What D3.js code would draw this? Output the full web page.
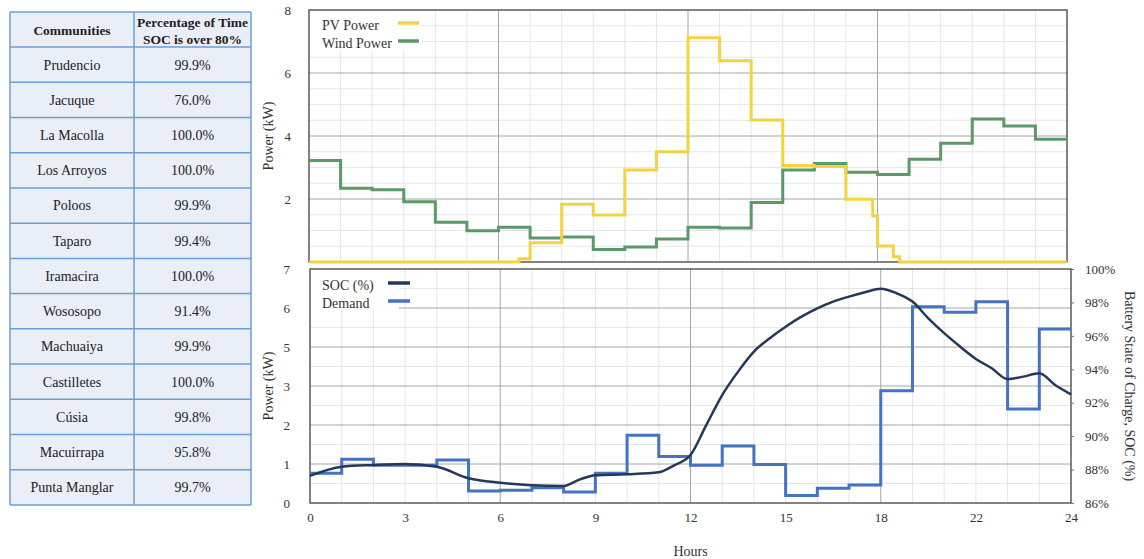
<!DOCTYPE html>
<html>
<head>
<meta charset="utf-8">
<script src="https://cdn.jsdelivr.net/npm/d3@7"></script>
<style>
body { margin: 0; background: #fff; }
svg text { font-family: "Liberation Serif", "Times New Roman", serif; fill: #333; }
</style>
</head>
<body>
<div id="chart"></div>
<script>
// table
const communities = ["Prudencio", "Jacuque", "La Macolla", "Los Arroyos", "Poloos", "Taparo", "Iramacira",
    "Wososopo", "Machuaiya", "Castilletes", "Cúsia", "Macuirrapa", "Punta Manglar"]
const socOver80 = ["99.9%", "76.0%", "100.0%", "100.0%", "99.9%", "99.4%", "100.0%",
    "91.4%", "99.9%", "100.0%", "99.8%", "95.8%", "99.7%"]

// top chart, hourly steps
const windPower = [3.22, 2.34, 2.29, 1.91, 1.26, 0.99, 1.10, 0.76, 0.79, 0.40, 0.48, 0.73,
    1.10, 1.08, 1.89, 2.92, 3.13, 2.85, 2.78, 3.26, 3.77, 4.54, 4.32, 3.90]
const pvHours = [0, 6.65, 7, 8, 9, 10, 11, 12, 13, 14, 15, 16, 17, 17.85, 18, 18.5, 18.7, 24]
const pvPower = [0, 0.1, 0.61, 1.83, 1.49, 2.92, 3.5, 7.12, 6.39, 4.51, 3.06, 3.03, 1.99, 1.46, 0.51, 0.17, 0, 0]
const topTicks = [2, 4, 6, 8]

// bottom chart
const demand = [0.76, 1.12, 0.97, 0.97, 1.10, 0.31, 0.33, 0.39, 0.28, 0.76, 1.74, 1.19,
    0.97, 1.46, 0.99, 0.19, 0.38, 0.46, 2.88, 6.03, 5.89, 6.16, 2.41, 5.46]
const socHours = [0, 1, 2, 3, 4, 5, 6, 7, 8, 8.5, 9, 10, 11, 11.5, 12, 12.5, 13, 13.5, 14, 14.5, 15, 15.5,
    16, 16.5, 17, 17.5, 18, 18.5, 19, 19.5, 20, 20.5, 21, 21.5, 22, 22.5, 23, 23.5, 24]
const soc = [87.62, 88.17, 88.27, 88.33, 88.17, 87.48, 87.21, 87.06, 87.02, 87.40, 87.66, 87.72, 87.84, 88.27,
    88.87, 90.67, 92.46, 93.86, 95.06, 95.86, 96.55, 97.15, 97.65, 98.05, 98.35, 98.61, 98.82, 98.55,
    98.05, 97.05, 96.16, 95.36, 94.62, 94.06, 93.42, 93.56, 93.76, 93.06, 92.50]
const powerTicks = [0, 1, 2, 3, 5, 6, 7]
const socTicks = [86, 88, 90, 92, 94, 96, 98, 100]
const hourTicks = [0, 3, 6, 9, 12, 15, 18, 21, 24]
const hourLabels = ["0", "3", "6", "9", "12", "15", "18", "22", "24"]

const colors = { pv: "#f3d341", wind: "#5b9a68", soc: "#263857", demand: "#4472c4" }

const svg = d3.select("#chart").append("svg")
    .attr("width", 1144)
    .attr("height", 559)

function drawTable() {
    const g = svg.append("g")
    const colX = [10, 134, 251]
    const rowY = d3.scaleLinear().domain([0, communities.length]).range([47, 505])

    g.append("rect")
        .attr("x", colX[0]).attr("y", 12)
        .attr("width", colX[2] - colX[0]).attr("height", 505 - 12)
        .attr("fill", "#e9eef7")

    const lines = [12].concat(d3.range(communities.length + 1).map(i => rowY(i)))
    g.selectAll(".hline").data(lines).join("line")
        .attr("x1", colX[0]).attr("x2", colX[2])
        .attr("y1", d => d).attr("y2", d => d)
        .attr("stroke", "#6a9fd4").attr("stroke-width", 1.5)
    g.selectAll(".vline").data(colX).join("line")
        .attr("x1", d => d).attr("x2", d => d)
        .attr("y1", 12).attr("y2", 505)
        .attr("stroke", "#6a9fd4").attr("stroke-width", 1.5)

    g.append("text")
        .attr("x", (colX[0] + colX[1]) / 2).attr("y", 30)
        .attr("dy", "0.35em").attr("text-anchor", "middle")
        .style("font-weight", "bold").style("font-size", "13.5px").style("fill", "#222")
        .text("Communities")
    g.append("text")
        .attr("x", (colX[1] + colX[2]) / 2).attr("y", 22)
        .attr("dy", "0.35em").attr("text-anchor", "middle")
        .style("font-weight", "bold").style("font-size", "13.5px").style("fill", "#222")
        .text("Percentage of Time")
    g.append("text")
        .attr("x", (colX[1] + colX[2]) / 2).attr("y", 39)
        .attr("dy", "0.35em").attr("text-anchor", "middle")
        .style("font-weight", "bold").style("font-size", "13.5px").style("fill", "#222")
        .text("SOC is over 80%")

    g.selectAll(".name").data(communities).join("text")
        .attr("x", (colX[0] + colX[1]) / 2)
        .attr("y", (d, i) => (rowY(i) + rowY(i + 1)) / 2)
        .attr("dy", "0.35em").attr("text-anchor", "middle")
        .style("font-size", "14px").style("fill", "#222")
        .text(d => d)
    g.selectAll(".val").data(socOver80).join("text")
        .attr("x", (colX[1] + colX[2]) / 2)
        .attr("y", (d, i) => (rowY(i) + rowY(i + 1)) / 2)
        .attr("dy", "0.35em").attr("text-anchor", "middle")
        .style("font-size", "14px").style("fill", "#222")
        .text(d => d)
}

function grid(g, x, yLines, yMinor, y0, y1) {
    const hrs = d3.range(1, 24)
    g.selectAll(".vminor").data(hrs.filter(h => h % 6 !== 0)).join("line")
        .attr("x1", d => x(d)).attr("x2", d => x(d)).attr("y1", y0).attr("y2", y1)
        .attr("stroke", "#e6e6e6")
    g.selectAll(".hminor").data(yMinor).join("line")
        .attr("x1", x(0)).attr("x2", x(24)).attr("y1", d => d).attr("y2", d => d)
        .attr("stroke", "#e6e6e6")
    g.selectAll(".vmajor").data([6, 12, 18]).join("line")
        .attr("x1", d => x(d)).attr("x2", d => x(d)).attr("y1", y0).attr("y2", y1)
        .attr("stroke", "#a6a6a6")
    g.selectAll(".hmajor").data(yLines).join("line")
        .attr("x1", x(0)).attr("x2", x(24)).attr("y1", d => d).attr("y2", d => d)
        .attr("stroke", "#a6a6a6")
}

function legend(g, x, y, items) {
    items.forEach((it, i) => {
        g.append("text")
            .attr("x", x).attr("y", y + i * 18)
            .attr("dy", "0.35em")
            .style("font-size", "14px")
            .text(it.label)
        g.append("line")
            .attr("x1", it.x1).attr("x2", it.x2)
            .attr("y1", y - 2 + i * 18).attr("y2", y - 2 + i * 18)
            .attr("stroke", it.color).attr("stroke-width", 3.5)
    })
}

function drawTop() {
    const g = svg.append("g")
    const x = d3.scaleLinear().domain([0, 24]).range([309, 1067])
    const y = d3.scaleLinear().domain([0, 8]).range([262, 10])

    const minor = d3.range(0.5, 8, 0.5).filter(v => v % 2 !== 0).map(v => y(v))
    grid(g, x, [2, 4, 6].map(v => y(v)), minor, y(8), y(0))

    g.append("rect")
        .attr("x", x(0)).attr("y", y(8))
        .attr("width", x(24) - x(0)).attr("height", y(0) - y(8))
        .attr("fill", "none").attr("stroke", "#5a5a5a").attr("stroke-width", 1.5)

    g.append("g")
        .attr("transform", `translate(${x(0)},0)`)
        .call(d3.axisLeft(y).tickValues(topTicks).tickFormat(d3.format("d")).tickSize(0).tickPadding(18))
        .call(a => a.select(".domain").remove())
        .selectAll("text").style("font-size", "13px")

    g.append("text")
        .attr("transform", `translate(268,${(y(0) + y(8)) / 2}) rotate(-90)`)
        .attr("dy", "0.35em").attr("text-anchor", "middle")
        .style("font-size", "14px")
        .text("Power (kW)")

    const line = d3.line().x(d => x(d[0])).y(d => y(d[1])).curve(d3.curveStepAfter)
    const wind = windPower.map((v, i) => [i, v]).concat([[24, windPower[windPower.length - 1]]])
    const pv = pvHours.map((h, i) => [h, pvPower[i]])

    g.append("path").datum(wind).attr("d", line)
        .attr("fill", "none").attr("stroke", colors.wind).attr("stroke-width", 3)
    g.append("path").datum(pv).attr("d", line)
        .attr("fill", "none").attr("stroke", colors.pv).attr("stroke-width", 3)

    g.append("rect").attr("x", 310).attr("y", 11).attr("width", 112).attr("height", 40).attr("fill", "#fff")
    legend(g, 322, 25, [
        { label: "PV Power", color: colors.pv, x1: 398, x2: 419 },
        { label: "Wind Power", color: colors.wind, x1: 398, x2: 419 }
    ])
}

function drawBottom() {
    const g = svg.append("g")
    const x = d3.scaleLinear().domain([0, 24]).range([310, 1071])
    const y = d3.scaleLinear().domain(powerTicks).range(powerTicks.map((d, i) => 503 - i * 39))
    const yR = d3.scaleLinear().domain([86, 100]).range([503, 269])

    const major = powerTicks.slice(1, -1).map(v => y(v))
    const minor = d3.range(powerTicks.length - 1).map(i => (y(powerTicks[i]) + y(powerTicks[i + 1])) / 2)
    grid(g, x, major, minor, y(7), y(0))

    g.append("rect")
        .attr("x", x(0)).attr("y", y(7))
        .attr("width", x(24) - x(0)).attr("height", y(0) - y(7))
        .attr("fill", "none").attr("stroke", "#5a5a5a").attr("stroke-width", 1.5)

    g.append("g")
        .attr("transform", `translate(${x(0)},0)`)
        .call(d3.axisLeft(y).tickValues(powerTicks).tickFormat(d3.format("d")).tickSize(0).tickPadding(20))
        .call(a => a.select(".domain").remove())
        .selectAll("text").style("font-size", "13px")

    g.append("g")
        .attr("transform", `translate(${x(24)},0)`)
        .call(d3.axisRight(yR).tickValues(socTicks).tickFormat(d => d + "%").tickSize(3).tickPadding(11))
        .call(a => a.select(".domain").remove())
        .call(a => a.selectAll("line").attr("stroke", "#777"))
        .selectAll("text").style("font-size", "13px")

    g.append("g")
        .attr("transform", `translate(0,${y(0)})`)
        .call(d3.axisBottom(x).tickValues(hourTicks).tickFormat((d, i) => hourLabels[i]).tickSize(0).tickPadding(10))
        .call(a => a.select(".domain").remove())
        .selectAll("text").style("font-size", "13px")

    g.append("text")
        .attr("transform", `translate(268,${(y(0) + y(7)) / 2}) rotate(-90)`)
        .attr("dy", "0.35em").attr("text-anchor", "middle")
        .style("font-size", "14px")
        .text("Power (kW)")

    g.append("text")
        .attr("transform", `translate(1130,${(y(0) + y(7)) / 2}) rotate(90)`)
        .attr("dy", "0.35em").attr("text-anchor", "middle")
        .style("font-size", "14px")
        .text("Battery State of Charge, SOC (%)")

    g.append("text")
        .attr("x", x(12)).attr("y", 551)
        .attr("dy", "0.35em").attr("text-anchor", "middle")
        .style("font-size", "14px")
        .text("Hours")

    const step = d3.line().x(d => x(d[0])).y(d => y(d[1])).curve(d3.curveStepAfter)
    const dem = demand.map((v, i) => [i, v]).concat([[24, demand[demand.length - 1]]])
    g.append("path").datum(dem).attr("d", step)
        .attr("fill", "none").attr("stroke", colors.demand).attr("stroke-width", 3)

    const socLine = d3.line().x(d => x(d[0])).y(d => yR(d[1])).curve(d3.curveMonotoneX)
    g.append("path").datum(socHours.map((h, i) => [h, soc[i]])).attr("d", socLine)
        .attr("fill", "none").attr("stroke", colors.soc).attr("stroke-width", 2.5)

    g.append("rect").attr("x", 311).attr("y", 270).attr("width", 88).attr("height", 39).attr("fill", "#fff")
    legend(g, 322, 285, [
        { label: "SOC (%)", color: colors.soc, x1: 388, x2: 410 },
        { label: "Demand", color: colors.demand, x1: 388, x2: 410 }
    ])
}

drawTable()
drawTop()
drawBottom()
</script>
</body>
</html>
